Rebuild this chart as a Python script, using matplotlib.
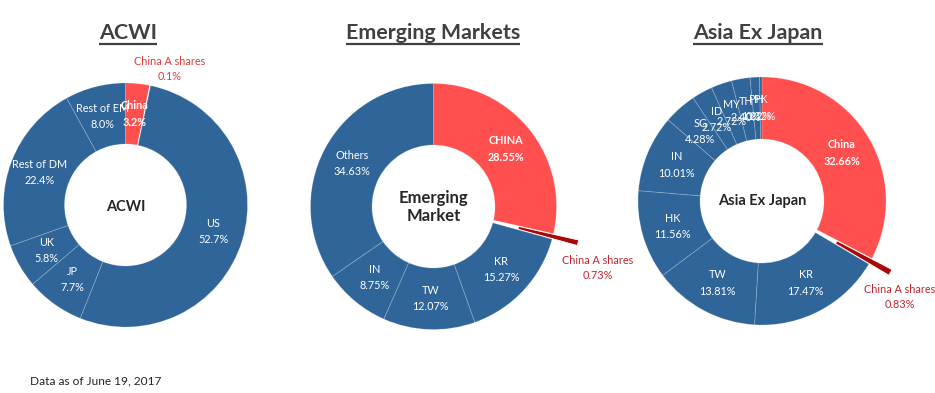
import matplotlib
matplotlib.use("Agg")
import matplotlib.pyplot as plt

plt.rcParams['font.family'] = ['Lato', 'DejaVu Sans']

# ACWI
acwi_labels = ['China', 'China A shares', 'US', 'JP', 'UK', 'Rest of DM', 'Rest of EM']
acwi_values = [3.2, 0.1, 52.7, 7.7, 5.8, 22.4, 8.0]

# Emerging Markets
em_labels = ['CHINA', 'China A shares', 'KR', 'TW', 'IN', 'Others']
em_values = [28.55, 0.73, 15.27, 12.07, 8.75, 34.63]

# Asia Ex Japan
asia_labels = ['China', 'China A shares', 'KR', 'TW', 'HK', 'IN', 'SG', 'ID', 'MY', 'TH', 'PH', 'PK']
asia_values = [32.66, 0.83, 17.47, 13.81, 11.56, 10.01, 4.28, 2.72, 2.72, 2.40, 1.22, 0.32]

BLUE = '#2f6599'
RED = '#ff4f4f'
DARKRED = '#a80808'
H = 393

fig = plt.figure(figsize=(9.35, 3.93), dpi=100)
ax = fig.add_axes([0, 0, 1, 1])


def donut(labels, values, cx, cy, R, expl, fmt, title, tx, inner, inner_y, inner_fs):
    colors = []
    explode = []
    names = []
    for lab in labels:
        if lab == 'China A shares':
            colors.append(DARKRED)
            explode.append(expl)
        elif lab.lower() == 'china':
            colors.append(RED)
            explode.append(0)
        else:
            colors.append(BLUE)
            explode.append(0)
    for lab, v in zip(labels, values):
        names.append('' if lab == 'China A shares' else lab + '\n' + fmt.format(v))
    wedges, texts = ax.pie(values, labels=names, colors=colors, explode=explode,
                           center=(cx, H - cy), radius=R, startangle=90,
                           counterclock=False, labeldistance=0.75,
                           wedgeprops=dict(width=R * 0.5, edgecolor=(1, 1, 1, 0.18), linewidth=0.7),
                           textprops=dict(color='white', fontsize=7.8, linespacing=1.6))
    for t, lab in zip(texts, labels):
        t.set_ha('center')
        t.set_va('center')
        if lab.lower() == 'china':
            t.set_fontweight('bold')
    for w, lab in zip(wedges, labels):
        if lab == 'China A shares':
            w.set_edgecolor('white')
            w.set_linewidth(0.6)
    ax.text(cx, H - inner_y, inner, ha='center', va='center', fontsize=inner_fs,
            fontweight='bold', color='#262626', linespacing=1.2)
    t = ax.text(tx, H - 39, title, ha='center', va='baseline', fontsize=15.4,
                fontweight='bold', color='#404040')
    return t


t1 = donut(acwi_labels, acwi_values, 125.5, 205, 122, 0, '{:.1f}%', 'ACWI', 128, 'ACWI', 207, 10.5)
t2 = donut(em_labels, em_values, 433.5, 206.5, 123, 26, '{:.2f}%', 'Emerging Markets', 433,
           'Emerging\nMarket', 207, 12)
t3 = donut(asia_labels, asia_values, 762, 201, 124, 23, '{:.2f}%', 'Asia Ex Japan', 758,
           'Asia Ex Japan', 201, 10.5)

# China A shares call-outs
ax.text(170, H - 69, 'China A shares\n' + '{:.1f}%'.format(acwi_values[1]), ha='center', va='center',
        fontsize=7.8, color='#e03a3a', linespacing=1.55)
ax.text(598, H - 268, 'China A shares\n' + '{:.2f}%'.format(em_values[1]), ha='center', va='center',
        fontsize=7.8, color='#c0262d', linespacing=1.55)
ax.text(900, H - 297, 'China A shares\n' + '{:.2f}%'.format(asia_values[1]), ha='center', va='center',
        fontsize=7.8, color='#c0262d', linespacing=1.55)

ax.text(30, H - 381, 'Data as of June 19, 2017', ha='left', va='center', fontsize=8.6, color='#222222')

ax.set_xlim(0, 935)
ax.set_ylim(0, H)
ax.set_aspect('equal')
ax.axis('off')

# underline the titles
fig.canvas.draw()
r = fig.canvas.get_renderer()
inv = ax.transData.inverted()
for t in (t1, t2, t3):
    bb = t.get_window_extent(r)
    (x0, _), (x1, _) = inv.transform([(bb.x0, bb.y0), (bb.x1, bb.y1)])
    ax.plot([x0, x1], [H - 43.5, H - 43.5], color='#404040', lw=1.6, solid_capstyle='butt')

fig.savefig('out.png', dpi=100)
